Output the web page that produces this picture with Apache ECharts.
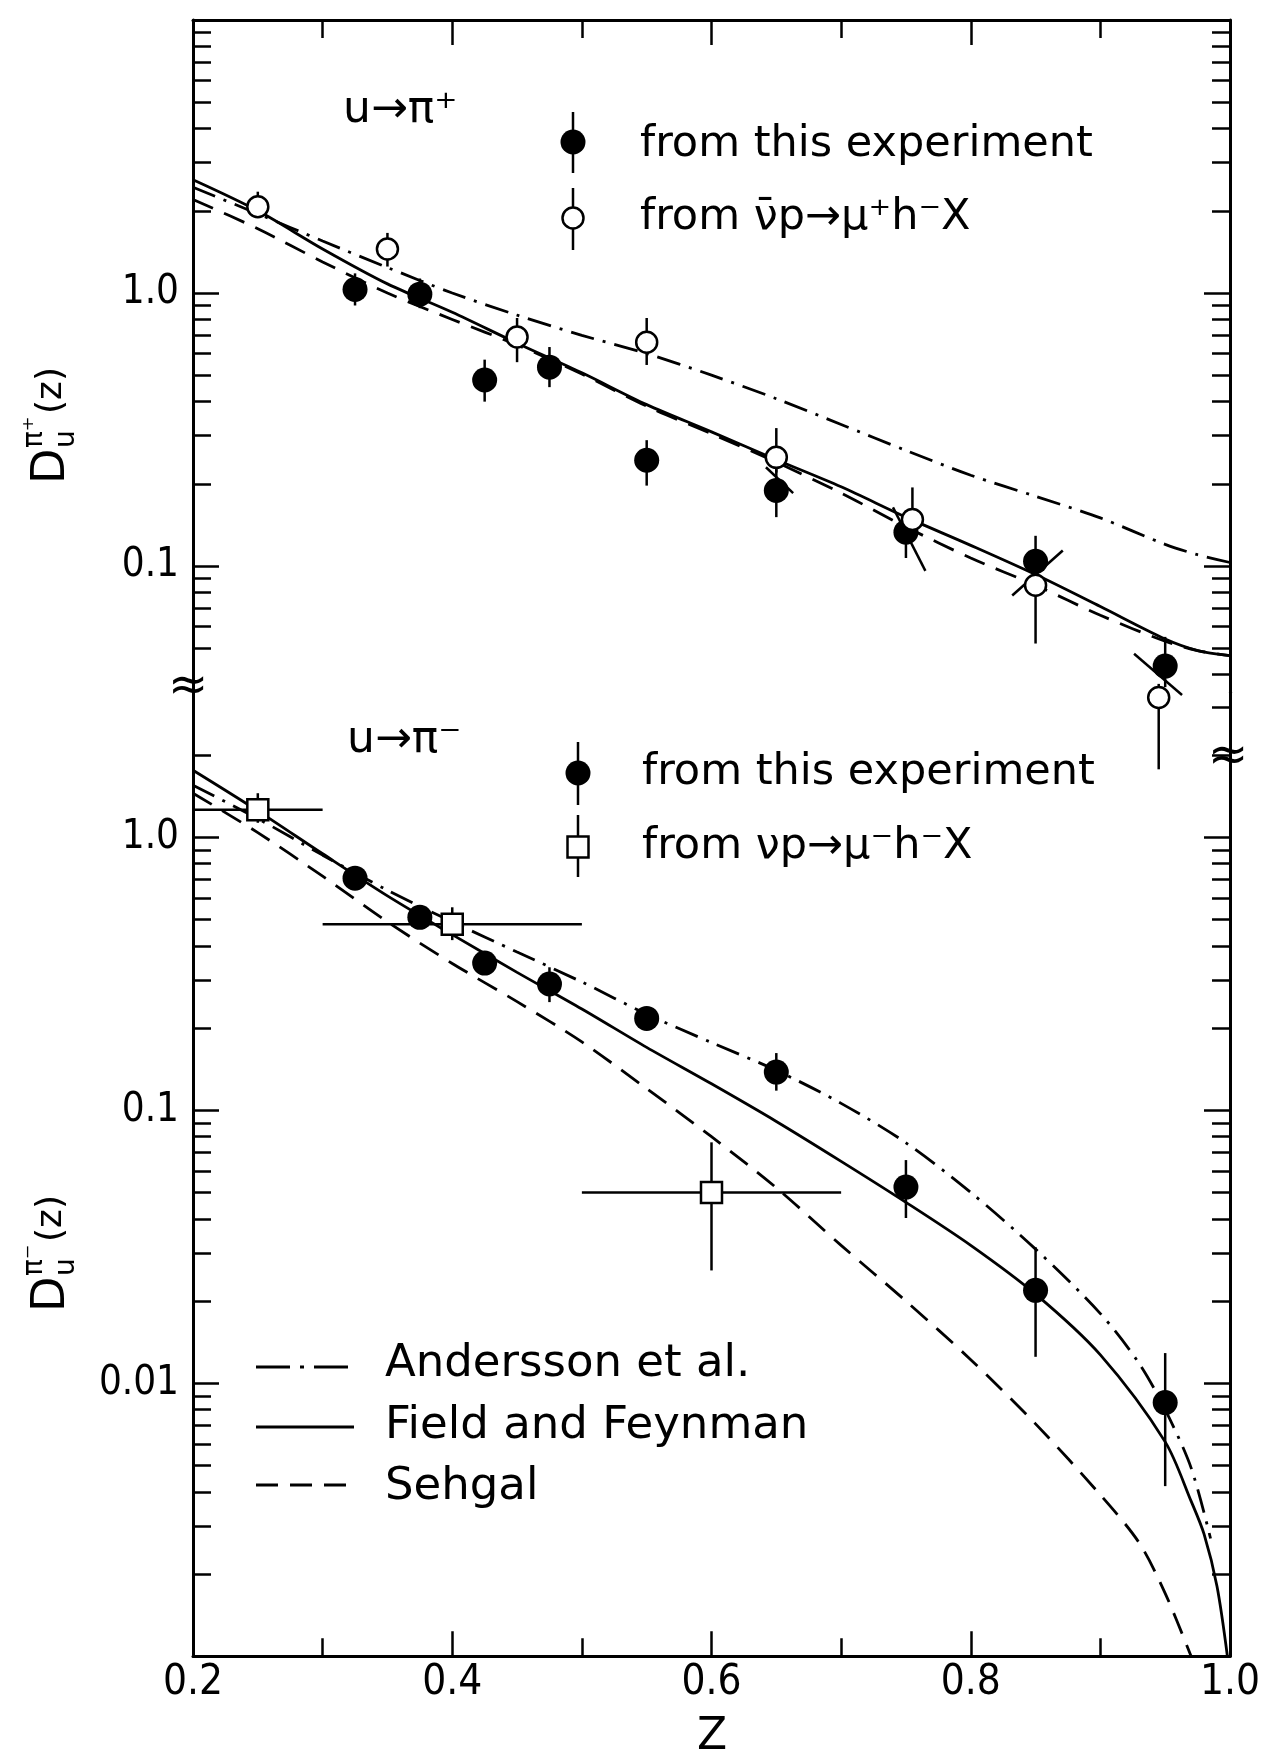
<!DOCTYPE html>
<html lang="en">
  <head>
    <meta charset="UTF-8" />
    <title>D_u pi(z) fragmentation functions</title>
    <script src="https://cdn.jsdelivr.net/npm/echarts@6.0.0/dist/echarts.min.js"></script>
    <style>
      body { margin: 0; background: #fff; }
    </style>
  </head>
  <body>
    <div id="main" style="width: 1264px; height: 1758px"></div>
    <script type="text/javascript">
      // ---------- upper panel: u -> pi+ ----------
      // this experiment (filled circles)
      const upExpZ = [0.325, 0.375, 0.425, 0.475, 0.55, 0.65, 0.75, 0.85, 0.95];
      const upExpD = [1.03, 0.99, 0.48, 0.535, 0.244, 0.189, 0.133, 0.104, 0.043];
      const upExpHi = [1.18, 1.13, 0.57, 0.634, 0.289, 0.23, 0.16, 0.129, 0.055];
      const upExpLo = [0.9, 0.88, 0.4, 0.452, 0.197, 0.151, 0.107, 0.086, 0.036];

      // anti-nu p -> mu+ h- X (open circles)
      const upNuZ = [0.25, 0.35, 0.45, 0.55, 0.65, 0.755, 0.85, 0.945];
      const upNuD = [2.07, 1.45, 0.69, 0.66, 0.25, 0.148, 0.085, 0.033];
      const upNuHi = [2.35, 1.66, 0.81, 0.81, 0.32, 0.194, 0.1, 0.037];
      const upNuLo = [1.97, 1.25, 0.558, 0.545, 0.22, 0.13, 0.052, 0.018];

      // slanted bars through some of the pairs: [z1, D1, z2, D2]
      const upSlants = [
        [0.642, 0.23, 0.663, 0.185],
        [0.74, 0.164, 0.765, 0.096],
        [0.832, 0.078, 0.871, 0.114],
        [0.926, 0.0477, 0.963, 0.0337],
      ];

      // model curves
      const upCurveZ = [0.2, 0.25, 0.3, 0.35, 0.4, 0.45, 0.5, 0.55, 0.6, 0.65, 0.7, 0.75, 0.8, 0.85, 0.9, 0.95, 0.975, 1.0];
      const upField = [2.6, 2.0, 1.45, 1.08, 0.85, 0.655, 0.51, 0.39, 0.31, 0.245, 0.195, 0.151, 0.119, 0.093, 0.071, 0.054, 0.049, 0.047];
      const upSehgal = [2.2, 1.72, 1.3, 1.0, 0.8, 0.645, 0.505, 0.385, 0.305, 0.24, 0.185, 0.139, 0.107, 0.085, 0.066, 0.053, 0.049, 0.047];
      const upAndersson = [2.44, 1.95, 1.55, 1.24, 1.0, 0.83, 0.7, 0.6, 0.5, 0.41, 0.33, 0.265, 0.215, 0.18, 0.15, 0.12, 0.11, 0.103];

      // ---------- lower panel: u -> pi- ----------
      const lowExpZ = [0.325, 0.375, 0.425, 0.475, 0.55, 0.65, 0.75, 0.85, 0.95];
      const lowExpD = [0.708, 0.509, 0.346, 0.29, 0.217, 0.138, 0.0523, 0.0219, 0.0085];
      const lowExpHi = [0.75, 0.55, 0.37, 0.334, 0.235, 0.162, 0.0657, 0.0315, 0.0129];
      const lowExpLo = [0.67, 0.47, 0.325, 0.249, 0.2, 0.118, 0.0403, 0.0125, 0.0042];

      // nu p -> mu- h- X (open squares, with z bins)
      const lowNuZ = [0.25, 0.4, 0.6];
      const lowNuD = [1.26, 0.48, 0.05];
      const lowNuHi = [1.45, 0.554, 0.0763];
      const lowNuLo = [1.13, 0.42, 0.0259];
      const lowNuZLo = [0.2, 0.3, 0.5];
      const lowNuZHi = [0.3, 0.5, 0.7];

      const lowFieldZ = [0.2, 0.25, 0.3, 0.35, 0.4, 0.45, 0.5, 0.55, 0.6, 0.65, 0.7, 0.75, 0.8, 0.85, 0.9, 0.95, 0.97, 0.98, 0.99, 0.998];
      const lowField = [1.76, 1.25, 0.87, 0.61, 0.44, 0.32, 0.235, 0.17, 0.125, 0.091, 0.065, 0.046, 0.032, 0.0212, 0.0127, 0.0061, 0.0037, 0.0028, 0.0018, 0.001];
      const lowSehgalZ = [0.2, 0.25, 0.3, 0.35, 0.4, 0.45, 0.5, 0.55, 0.6, 0.65, 0.7, 0.75, 0.8, 0.85, 0.9, 0.93, 0.95, 0.97];
      const lowSehgal = [1.45, 1.04, 0.72, 0.49, 0.345, 0.25, 0.178, 0.12, 0.08, 0.052, 0.032, 0.02, 0.0122, 0.0071, 0.0039, 0.0026, 0.0017, 0.001];
      const lowAnderssonZ = [0.2, 0.25, 0.3, 0.35, 0.4, 0.45, 0.5, 0.55, 0.6, 0.65, 0.7, 0.75, 0.8, 0.85, 0.9, 0.93, 0.95, 0.97, 0.985];
      const lowAndersson = [1.55, 1.17, 0.86, 0.64, 0.49, 0.38, 0.295, 0.225, 0.177, 0.14, 0.106, 0.076, 0.05, 0.031, 0.018, 0.0118, 0.008, 0.0049, 0.0027];

      // axis labels
      const upLabelValues = [0.1, 1];
      const lowLabelValues = [0.01, 0.1, 1];

      // ---------- layout ----------
      const DECADE = 273; // px per decade, same in both panels
      const LEFT = 193, WIDTH = 1037, TOP = 20;
      const upMin = 0.0345, upMax = 10, lowMin = 0.001, lowMax = 3.4;
      const upH = Math.log10(upMax / upMin) * DECADE;
      const lowTop = TOP + upH;
      const lowH = Math.log10(lowMax / lowMin) * DECADE;

      const INK = "#000";
      const NUM_FONT = "'Liberation Sans Narrow', 'DejaVu Sans Condensed', Roboto, sans-serif";
      const TXT_FONT = "'DejaVu Sans', sans-serif";

      // minor log ticks 2..9 of every decade in [fromExp, toExp]
      function minors(fromExp, toExp) {
        const out = [];
        for (let e = fromExp; e <= toExp; e++)
          for (let m = 2; m <= 9; m++) out.push(+(m * Math.pow(10, e)).toPrecision(3));
        return out;
      }
      const upLeftMinor = minors(-2, 0).filter((v) => v >= 0.05);
      const upRightMinor = minors(-2, 0).filter((v) => v >= 0.04);
      const lowLeftMinor = minors(-3, 0).filter((v) => v <= 2);
      const lowRightMinor = minors(-3, 0).filter((v) => v <= 3);

      function labelFmt(v) {
        if (Math.abs(v - 1) < 1e-9) return "1.0";
        return String(+v.toPrecision(2));
      }

      function yAxis(grid, min, max, pos, tickVals, len, labelVals, showLine) {
        return {
          gridIndex: grid,
          type: "log",
          logBase: 10,
          min: min,
          max: max,
          position: pos,
          axisLine: { show: showLine, lineStyle: { color: INK, width: 3 } },
          axisTick: { show: true, inside: true, length: len, customValues: tickVals, lineStyle: { color: INK, width: 2.5 } },
          axisLabel: labelVals
            ? { show: true, customValues: labelVals, formatter: labelFmt, color: INK, fontSize: 40, fontFamily: NUM_FONT, margin: 14 }
            : { show: false },
          splitLine: { show: false },
          minorTick: { show: false },
        };
      }

      function xAxis(grid, pos, showLabel) {
        return {
          gridIndex: grid,
          type: "value",
          min: 0.2,
          max: 1.0,
          interval: 0.2,
          position: pos,
          axisLine: { show: true, lineStyle: { color: INK, width: 3 } },
          axisTick: { show: true, inside: true, length: 25, lineStyle: { color: INK, width: 2.5 } },
          minorTick: { show: true, splitNumber: 2, length: 18, lineStyle: { color: INK, width: 2.5 } },
          axisLabel: {
            show: showLabel,
            formatter: (v) => v.toFixed(1),
            color: INK,
            fontSize: 42,
            fontFamily: NUM_FONT,
            margin: 6,
          },
          splitLine: { show: false },
        };
      }

      const pairs = (xs, ys) => xs.map((x, i) => [x, ys[i]]);
      const bars = (xs, lo, hi) => xs.map((x, i) => [x, lo[i], hi[i]]);

      function renderBar(params, api) {
        const a = api.coord([api.value(0), api.value(1)]);
        const b = api.coord([api.value(0), api.value(2)]);
        return { type: "line", shape: { x1: a[0], y1: a[1], x2: b[0], y2: b[1] }, style: { stroke: INK, lineWidth: 2.5 } };
      }
      function renderSlant(params, api) {
        const a = api.coord([api.value(0), api.value(1)]);
        const b = api.coord([api.value(2), api.value(3)]);
        return { type: "line", shape: { x1: a[0], y1: a[1], x2: b[0], y2: b[1] }, style: { stroke: INK, lineWidth: 2.5 } };
      }
      function renderCross(params, api) {
        const v1 = api.coord([api.value(0), api.value(4)]);
        const v2 = api.coord([api.value(0), api.value(5)]);
        const h1 = api.coord([api.value(2), api.value(1)]);
        const h2 = api.coord([api.value(3), api.value(1)]);
        return {
          type: "group",
          children: [
            { type: "line", shape: { x1: v1[0], y1: v1[1], x2: v2[0], y2: v2[1] }, style: { stroke: INK, lineWidth: 2.5 } },
            { type: "line", shape: { x1: h1[0], y1: h1[1], x2: h2[0], y2: h2[1] }, style: { stroke: INK, lineWidth: 2.5 } },
          ],
        };
      }

      const DASHED = [22, 12];
      const DASHDOT = [24, 9, 3, 9];

      function curve(name, xi, yi, data, type) {
        return {
          name: name,
          type: "line",
          xAxisIndex: xi,
          yAxisIndex: yi,
          data: data,
          smooth: 0.3,
          showSymbol: false,
          clip: false,
          lineStyle: { color: INK, width: 2.8, type: type },
          z: 2,
        };
      }

      function custom(xi, yi, data, render, encode) {
        return { type: "custom", xAxisIndex: xi, yAxisIndex: yi, data: data, renderItem: render, encode: encode, clip: false, z: 3 };
      }

      function points(xi, yi, data, symbol, size, filled) {
        return {
          type: "scatter",
          xAxisIndex: xi,
          yAxisIndex: yi,
          data: data,
          symbol: symbol,
          symbolSize: size,
          clip: false,
          itemStyle: filled
            ? { color: INK, opacity: 1 }
            : { color: "#fff", borderColor: INK, borderWidth: 2.5, opacity: 1 },
          z: 5,
        };
      }

      const barEnc = { x: 0, y: [1, 2] };

      // ---------- decorations (text, legend) ----------
      function txt(x, y, s, size, align) {
        return {
          type: "text",
          x: x,
          y: y,
          z: 10,
          style: { text: s, font: size + "px " + TXT_FONT, fill: INK, align: align || "left", verticalAlign: "middle" },
        };
      }
      function hline(x1, x2, y, dash) {
        return { type: "line", z: 10, shape: { x1: x1, y1: y, x2: x2, y2: y }, style: { stroke: INK, lineWidth: 2.8, lineDash: dash || null } };
      }
      function vline(x, y1, y2) {
        return { type: "line", z: 10, shape: { x1: x, y1: y1, x2: x, y2: y2 }, style: { stroke: INK, lineWidth: 2.5 } };
      }
      function yTitle(x, yBottom, sup) {
        return {
          type: "group",
          x: x,
          y: yBottom,
          rotation: Math.PI / 2,
          z: 10,
          children: [
            { type: "text", x: 0, y: 0, style: { text: "D", font: "46px " + TXT_FONT, fill: INK, verticalAlign: "middle" } },
            { type: "text", x: 36, y: -17, style: { text: sup, font: "28px " + TXT_FONT, fill: INK, verticalAlign: "middle" } },
            { type: "text", x: 36, y: 15, style: { text: "u", font: "28px " + TXT_FONT, fill: INK, verticalAlign: "middle" } },
            { type: "text", x: 70, y: 0, style: { text: "(z)", font: "36px " + TXT_FONT, fill: INK, verticalAlign: "middle" } },
          ],
        };
      }

      const graphics = [
        // panel titles
        txt(343, 111, "u\u2192\u03c0\u207a", 44),
        txt(347, 741, "u\u2192\u03c0\u207b", 44),
        // upper data legend
        vline(573, 112, 173),
        { type: "circle", z: 11, shape: { cx: 573, cy: 142, r: 12.5 }, style: { fill: INK } },
        txt(640, 145, "from this experiment", 43),
        vline(573, 188, 250),
        { type: "circle", z: 11, shape: { cx: 573, cy: 218, r: 10.5 }, style: { fill: "#fff", stroke: INK, lineWidth: 2.5 } },
        txt(640, 218, "from \u03bd\u0304p\u2192\u03bc\u207ah\u207bX", 43),
        // lower data legend
        vline(578, 742, 805),
        { type: "circle", z: 11, shape: { cx: 578, cy: 773, r: 12.5 }, style: { fill: INK } },
        txt(642, 773, "from this experiment", 43),
        vline(578, 815, 877),
        { type: "rect", z: 11, shape: { x: 567.5, y: 836.5, width: 21, height: 21 }, style: { fill: "#fff", stroke: INK, lineWidth: 2.5 } },
        txt(642, 847, "from \u03bdp\u2192\u03bc\u207bh\u207bX", 43),
        // model legend
        hline(256, 354, 1367, [34, 10, 4, 10]),
        txt(385, 1364, "Andersson et al.", 45),
        hline(256, 354, 1427),
        txt(385, 1426, "Field and Feynman", 45),
        hline(256, 354, 1485, [22, 12]),
        txt(385, 1487, "Sehgal", 45),
        // axis titles
        yTitle(52, 484, "\u03c0\u207a"),
        yTitle(52, 1312, "\u03c0\u207b"),
        txt(712, 1738, "Z", 44, "center"),
        // axis break marks
        txt(188, 688, "\u2248", 48, "center"),
        txt(1228, 758, "\u2248", 48, "center"),
      ];

      const option = {
        animation: false,
        backgroundColor: "#fff",
        grid: [
          { left: LEFT, width: WIDTH, top: TOP, height: upH },
          { left: LEFT, width: WIDTH, top: lowTop, height: lowH },
        ],
        xAxis: [xAxis(0, "top", false), xAxis(1, "bottom", true)],
        yAxis: [
          yAxis(0, upMin, upMax, "left", [0.1, 1, 10], 26, upLabelValues, true),
          yAxis(0, upMin, upMax, "left", upLeftMinor, 18, null, false),
          yAxis(0, upMin, upMax, "right", [0.1, 1, 10], 26, null, true),
          yAxis(0, upMin, upMax, "right", upRightMinor, 18, null, false),
          yAxis(1, lowMin, lowMax, "left", [0.001, 0.01, 0.1, 1], 26, lowLabelValues, true),
          yAxis(1, lowMin, lowMax, "left", lowLeftMinor, 18, null, false),
          yAxis(1, lowMin, lowMax, "right", [0.001, 0.01, 0.1, 1], 26, null, true),
          yAxis(1, lowMin, lowMax, "right", lowRightMinor, 18, null, false),
        ],
        series: [
          curve("Field and Feynman", 0, 0, pairs(upCurveZ, upField), "solid"),
          curve("Sehgal", 0, 0, pairs(upCurveZ, upSehgal), DASHED),
          curve("Andersson et al.", 0, 0, pairs(upCurveZ, upAndersson), DASHDOT),
          curve("Field and Feynman", 1, 4, pairs(lowFieldZ, lowField), "solid"),
          curve("Sehgal", 1, 4, pairs(lowSehgalZ, lowSehgal), DASHED),
          curve("Andersson et al.", 1, 4, pairs(lowAnderssonZ, lowAndersson), DASHDOT),

          custom(0, 0, bars(upExpZ, upExpLo, upExpHi), renderBar, barEnc),
          custom(0, 0, bars(upNuZ, upNuLo, upNuHi), renderBar, barEnc),
          custom(0, 0, upSlants, renderSlant, { x: [0, 2], y: [1, 3] }),
          points(0, 0, pairs(upExpZ, upExpD), "circle", 25, true),
          points(0, 0, pairs(upNuZ, upNuD), "circle", 21, false),

          custom(1, 4, bars(lowExpZ, lowExpLo, lowExpHi), renderBar, barEnc),
          custom(
            1,
            4,
            lowNuZ.map((z, i) => [z, lowNuD[i], lowNuZLo[i], lowNuZHi[i], lowNuLo[i], lowNuHi[i]]),
            renderCross,
            { x: [0, 2, 3], y: [1, 4, 5] }
          ),
          points(1, 4, pairs(lowExpZ, lowExpD), "circle", 25, true),
          points(1, 4, pairs(lowNuZ, lowNuD), "rect", 21, false),
        ],
        graphic: graphics,
      };

      const chart = echarts.init(document.getElementById("main"));
      chart.setOption(option);
    </script>
  </body>
</html>
